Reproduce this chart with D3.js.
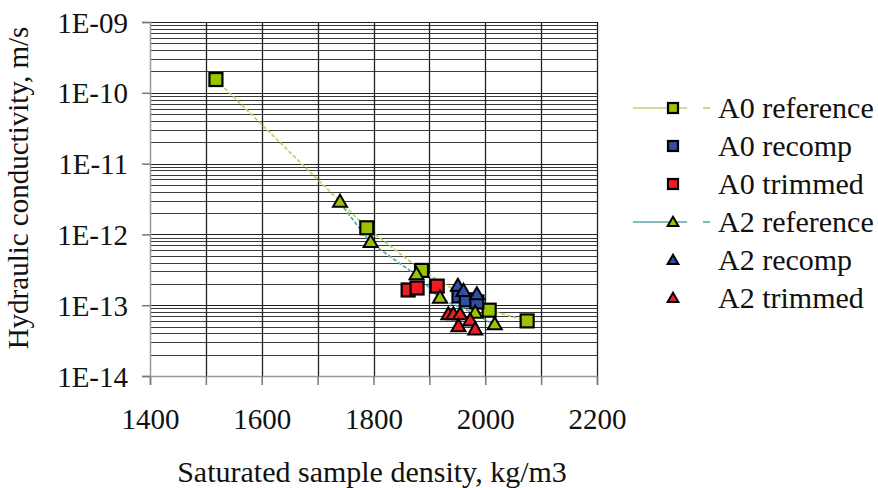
<!DOCTYPE html>
<html><head><meta charset="utf-8">
<script src="https://cdn.jsdelivr.net/npm/d3@7/dist/d3.min.js"></script>
<style>body{margin:0;background:#fff}svg{display:block}</style>
</head><body><svg id="c" width="878" height="488"></svg>
<script>
// Data (density kg/m3, hydraulic conductivity m/s)
const a0RefDensity = [1518, 1788, 1886, 2007, 2075];
const a0RefK = [1.54e-10, 1.24e-12, 3.1e-13, 8.5e-14, 6.0e-14];
const a0RecompDensity = [1953, 1966, 1985];
const a0RecompK = [1.35e-13, 1.19e-13, 1.11e-13];
const a0TrimDensity = [1862, 1878, 1914];
const a0TrimK = [1.64e-13, 1.75e-13, 1.86e-13];
const a2RefDensity = [1740, 1795, 1877, 1919, 1982, 2017];
const a2RefK = [2.8e-12, 7.6e-13, 2.65e-13, 1.24e-13, 7.6e-14, 5.2e-14];
const a2RecompDensity = [1951, 1961, 1985];
const a2RecompK = [1.82e-13, 1.54e-13, 1.38e-13];
const a2TrimDensity = [1934, 1943, 1955, 1973, 1952, 1982];
const a2TrimK = [7.2e-14, 7.2e-14, 7.2e-14, 5.9e-14, 4.9e-14, 4.4e-14];
const xTicks = [1400, 1600, 1800, 2000, 2200];
const yTicks = [1e-9, 1e-10, 1e-11, 1e-12, 1e-13, 1e-14];
const yTickLabels = ["1E-09", "1E-10", "1E-11", "1E-12", "1E-13", "1E-14"];
const legendLabels = ["A0 reference", "A0 recomp", "A0 trimmed", "A2 reference", "A2 recomp", "A2 trimmed"];

const FONT = "'Liberation Serif','LiberationSerif','Tinos','Times New Roman','Nimbus Roman','Nimbus Roman No9 L','FreeSerif','Noto Serif','DejaVu Serif',serif";
const GREEN = "#9ac400", BLUE = "#2f4fa6", RED = "#ee1c25";
const svg = d3.select("#c");
const x = d3.scaleLinear().domain([1400, 2200]).range([150, 597]);
const y = d3.scaleLog().domain([1e-14, 1e-9]).range([376, 22]);

// grid
const g = svg.append("g");
const minor = [];
for (let e = -14; e < -9; e++) for (let k = 2; k <= 9; k++) minor.push(k * Math.pow(10, e));
g.selectAll(".mn").data(minor).join("line")
  .attr("x1", 150).attr("x2", 597)
  .attr("y1", d => Math.round(y(d)) + 0.5).attr("y2", d => Math.round(y(d)) + 0.5)
  .attr("stroke", "#3a3a3a").attr("stroke-width", 1);
g.selectAll(".mj").data(yTicks.slice(0, 5)).join("line")
  .attr("x1", 150).attr("x2", 597)
  .attr("y1", d => Math.round(y(d)) + 0.5).attr("y2", d => Math.round(y(d)) + 0.5)
  .attr("stroke", "#222").attr("stroke-width", 1.2);
const vgrid = d3.range(1500, 2201, 100);
g.selectAll(".vg").data(vgrid).join("line")
  .attr("x1", d => Math.round(x(d)) + 0.5).attr("x2", d => Math.round(x(d)) + 0.5)
  .attr("y1", 22).attr("y2", 376)
  .attr("stroke", "#222").attr("stroke-width", 1.3);

// axes
const xAxis = d3.axisBottom(x).tickValues(d3.range(1400, 2201, 100)).tickSize(9)
  .tickFormat(d => xTicks.includes(d) ? d : "");
const xa = svg.append("g").attr("transform", "translate(0,376)").call(xAxis)
  .attr("font-family", FONT);
xa.select(".domain").attr("stroke", "#999").attr("stroke-width", 1.5);
xa.selectAll(".tick line").attr("stroke", "#777").attr("stroke-width", 1.5);
xa.selectAll(".tick text").attr("font-size", 29).attr("dy", 0).attr("y", 53)
  .attr("font-family", FONT).attr("fill", "#111");

const yAxis = d3.axisLeft(y).tickValues(yTicks).tickSize(8)
  .tickFormat((d, i) => yTickLabels[i]);
const ya = svg.append("g").attr("transform", "translate(150,0)").call(yAxis)
  .attr("font-family", FONT);
ya.select(".domain").attr("stroke", "#999").attr("stroke-width", 1.5);
ya.selectAll(".tick line").attr("stroke", "#777").attr("stroke-width", 1.5);
ya.selectAll(".tick text").attr("font-size", 29).attr("x", -22).attr("dy", "0.35em")
  .attr("font-family", FONT).attr("fill", "#111");

// titles
svg.append("text").attr("x", 372).attr("y", 482).attr("text-anchor", "middle").attr("fill", "#111")
  .attr("font-family", FONT).attr("font-size", 30).text("Saturated sample density, kg/m3");
svg.append("text").attr("transform", "translate(28,188) rotate(-90)").attr("text-anchor", "middle").attr("fill", "#111")
  .attr("font-family", FONT).attr("font-size", 29).text("Hydraulic conductivity, m/s");

// lines
function pairs(xs, ys) { return xs.map((d, i) => [d, ys[i]]).sort((a, b) => a[0] - b[0]); }
const line = d3.line().x(d => x(d[0])).y(d => y(d[1]));
svg.append("path").datum(pairs(a0RefDensity, a0RefK)).attr("d", line)
  .attr("fill", "none").attr("stroke", "#bcd46e").attr("stroke-width", 1.8).attr("stroke-dasharray", "4,2");
svg.append("path").datum(pairs(a2RefDensity, a2RefK)).attr("d", line)
  .attr("fill", "none").attr("stroke", "#5ea6a8").attr("stroke-width", 1.8).attr("stroke-dasharray", "4,2");

// markers
const tri = d3.symbol().type(d3.symbolTriangle).size(85);
function squares(xs, ys, fill, s) {
  svg.append("g").selectAll("rect").data(xs.map((d, i) => [d, ys[i]])).join("rect")
    .attr("x", d => x(d[0]) - s / 2).attr("y", d => y(d[1]) - s / 2)
    .attr("width", s).attr("height", s)
    .attr("fill", fill).attr("stroke", "#000").attr("stroke-width", 2.2);
}
function triangles(xs, ys, fill) {
  svg.append("g").selectAll("path").data(xs.map((d, i) => [d, ys[i]])).join("path")
    .attr("d", tri).attr("transform", d => `translate(${x(d[0])},${y(d[1])})`)
    .attr("fill", fill).attr("stroke", "#000").attr("stroke-width", 2).attr("stroke-linejoin", "miter");
}
squares(a0RefDensity, a0RefK, GREEN, 13);
squares(a0RecompDensity, a0RecompK, BLUE, 13);
squares(a0TrimDensity, a0TrimK, RED, 13);
triangles(a2RefDensity, a2RefK, GREEN);
triangles(a2RecompDensity, a2RecompK, BLUE);
triangles(a2TrimDensity, a2TrimK, RED);

// legend
const legFill = [GREEN, BLUE, RED, GREEN, BLUE, RED];
const legLine = ["#bcd46e", null, null, "#5ea6a8", null, null];
const lg = svg.append("g");
legendLabels.forEach((lab, i) => {
  const cy = 108 + i * 38;
  if (legLine[i]) {
    lg.append("line").attr("x1", 633).attr("x2", 687).attr("y1", cy).attr("y2", cy)
      .attr("stroke", legLine[i]).attr("stroke-width", 1.6);
    lg.append("line").attr("x1", 703).attr("x2", 710).attr("y1", cy).attr("y2", cy)
      .attr("stroke", legLine[i]).attr("stroke-width", 1.6);
  }
  if (i < 3) {
    lg.append("rect").attr("x", 673 - 5).attr("y", cy - 5).attr("width", 10).attr("height", 10)
      .attr("fill", legFill[i]).attr("stroke", "#000").attr("stroke-width", 2.2);
  } else {
    lg.append("path").attr("d", d3.symbol().type(d3.symbolTriangle).size(50)())
      .attr("transform", `translate(673,${cy + 1})`)
      .attr("fill", legFill[i]).attr("stroke", "#000").attr("stroke-width", 2);
  }
  lg.append("text").attr("x", 718).attr("y", cy + 10).attr("fill", "#111")
    .attr("font-family", FONT).attr("font-size", 30).text(lab);
});
</script></body></html>
